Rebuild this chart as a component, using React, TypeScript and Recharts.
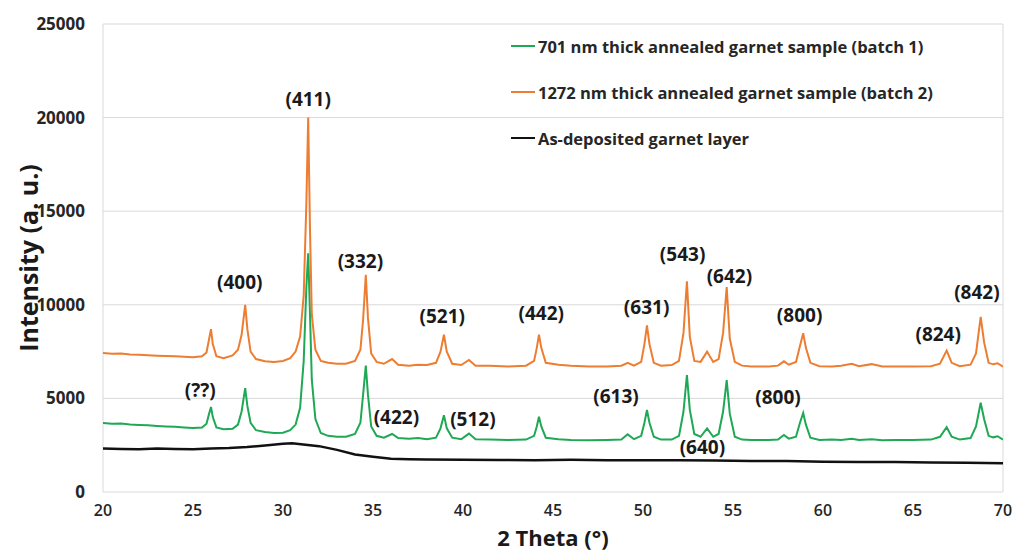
import { LineChart, Line, XAxis, YAxis, CartesianGrid, ReferenceLine, ReferenceDot } from 'recharts'

const FONT = "'Open Sans', 'DejaVu Sans', sans-serif"

// 2θ grid shared by the two annealed samples
const thetaAnnealed = [
  20, 20.5, 21, 21.5, 22, 22.5, 23, 23.5, 24, 24.5, 25, 25.5, 25.75, 25.9, 26.0, 26.1, 26.3, 26.7, 27.2, 27.5,
  27.7, 27.9, 28.02, 28.2, 28.5, 29, 29.5, 30, 30.4, 30.7, 30.95, 31.15, 31.3, 31.4, 31.5, 31.6, 31.8, 32.1, 32.5, 33,
  33.5, 34, 34.3, 34.45, 34.6, 34.72, 34.9, 35.2, 35.6, 36.06, 36.4, 37, 37.5, 38, 38.5, 38.75, 38.94, 39.1, 39.4, 39.9,
  40.33, 40.7, 41.5, 42.5, 43.5, 43.95, 44.1, 44.22, 44.35, 44.6, 45.3, 46, 47, 48, 48.8, 49.15, 49.5, 49.9, 50.08, 50.22,
  50.36, 50.6, 51, 51.6, 52.0, 52.25, 52.44, 52.6, 52.85, 53.2, 53.56, 53.9, 54.2, 54.45, 54.65, 54.82, 55.1, 55.5, 56, 57,
  57.5, 57.83, 58.1, 58.5, 58.72, 58.9, 59.05, 59.3, 59.8, 60.5, 61, 61.6, 62, 62.7, 63.3, 64, 65, 66, 66.5, 66.87,
  67.15, 67.6, 68.2, 68.5, 68.76, 68.95, 69.2, 69.45, 69.7, 70,
]

const batch1Intensity = [
  3680, 3650, 3660, 3610, 3580, 3560, 3530, 3500, 3480, 3450, 3420, 3450, 3650, 4200, 4540, 4000, 3450, 3350, 3380, 3600,
  4300, 5550, 4600, 3700, 3300, 3200, 3150, 3170, 3300, 3600, 4500, 7000, 11000, 12750, 9500, 6000, 3900, 3150, 3000, 2950,
  2950, 3100, 3700, 5200, 6750, 5200, 3500, 3000, 2900, 3100, 2880, 2850, 2880, 2820, 2900, 3400, 4100, 3400, 2900, 2820,
  3120, 2820, 2800, 2780, 2800, 3000, 3500, 4020, 3500, 2900, 2820, 2780, 2760, 2780, 2800, 3080, 2820, 3000, 3700, 4380,
  3700, 2950, 2800, 2800, 3000, 4300, 6250, 4400, 3100, 2950, 3400, 2950, 3100, 4300, 5980, 4200, 2950, 2800, 2780, 2780,
  2800, 3050, 2850, 2950, 3700, 4220, 3600, 2900, 2780, 2800, 2780, 2850, 2780, 2820, 2760, 2780, 2780, 2800, 2950, 3460,
  2950, 2800, 2880, 3500, 4770, 3900, 3000, 2920, 2980, 2800,
]

const batch2Intensity = [
  7420, 7380, 7400, 7350, 7330, 7300, 7280, 7260, 7250, 7220, 7200, 7250, 7450, 8200, 8700, 7900, 7250, 7150, 7300, 7600,
  8400, 10000, 8700, 7500, 7100, 6980, 6950, 7000, 7150, 7500, 8300, 10500, 15500, 20000, 14000, 9500, 7600, 7000, 6900, 6850,
  6850, 7000, 7600, 9200, 11600, 9300, 7400, 6950, 6850, 7100, 6800, 6750, 6800, 6780, 6900, 7500, 8400, 7500, 6850, 6780,
  7050, 6750, 6750, 6700, 6750, 7000, 7700, 8400, 7700, 6900, 6800, 6750, 6700, 6700, 6750, 6900, 6750, 6950, 7900, 8900,
  7900, 6900, 6750, 6780, 7000, 8500, 11250, 8300, 7000, 6950, 7500, 6950, 7100, 8500, 10950, 8200, 6950, 6750, 6700, 6700,
  6750, 6980, 6800, 6950, 7800, 8480, 7700, 6900, 6720, 6700, 6750, 6850, 6720, 6830, 6700, 6700, 6700, 6720, 6850, 7550,
  6900, 6720, 6800, 7400, 9350, 8000, 6900, 6820, 6880, 6700,
]

const thetaAsDeposited = [
  20, 21, 22, 23, 24, 25, 26, 27, 28, 29, 30, 30.5, 31, 32, 33, 34, 35, 36, 37, 38,
  40, 42, 44, 46, 48, 50, 52, 54, 56, 58, 60, 62, 64, 66, 68, 70,
]
const asDepositedIntensity = [
  2330, 2300, 2280, 2320, 2300, 2280, 2330, 2350, 2400, 2480, 2580, 2600, 2550, 2450, 2250, 2000, 1880, 1780, 1750, 1730,
  1720, 1710, 1700, 1720, 1700, 1690, 1700, 1680, 1660, 1650, 1620, 1600, 1600, 1570, 1560, 1530,
]

const xTicks = [20, 25, 30, 35, 40, 45, 50, 55, 60, 65, 70]
const yTicks = [0, 5000, 10000, 15000, 20000, 25000]

// peak (hkl) annotations: text, 2θ, intensity of label centre
const peakLabels = ['(411)', '(400)', '(332)', '(??)', '(422)', '(521)', '(442)', '(512)', '(631)', '(613)', '(543)', '(640)', '(642)', '(800)', '(800)', '(824)', '(842)']
const peakX = [31.4, 27.6, 34.3, 25.4, 36.3, 38.85, 44.35, 40.55, 50.2, 48.5, 52.2, 53.3, 54.8, 58.7, 57.5, 66.4, 68.55]
const peakY = [21000, 11200, 12300, 5450, 4000, 9400, 9560, 3900, 9880, 5130, 12700, 2400, 11550, 9450, 5080, 8400, 10650]

const seriesNames = ['701 nm thick annealed garnet sample (batch 1)', '1272 nm thick annealed garnet sample (batch 2)', 'As-deposited garnet layer']
const seriesColors = ['#1FA855', '#ED7D31', '#111111']

const batch1Data = thetaAnnealed.map((x, i) => ({ x, y: batch1Intensity[i] }))
const batch2Data = thetaAnnealed.map((x, i) => ({ x, y: batch2Intensity[i] }))
const asDepData = thetaAsDeposited.map((x, i) => ({ x, y: asDepositedIntensity[i] }))

function YTitle() {
  return (
    <text x={28} y={258} transform="rotate(-90 28 258)" textAnchor="middle" dominantBaseline="central"
      fontFamily={FONT} fontSize={25} fontWeight={700} fill="#1a1a1a">
      Intensity (a. u.)
    </text>
  )
}

function XTitle() {
  return (
    <text x={553} y={537} textAnchor="middle" dominantBaseline="central"
      fontFamily={FONT} fontSize={22} fontWeight={700} fill="#1a1a1a">
      2 Theta (°)
    </text>
  )
}

function LegendBox() {
  return (
    <div style={{ position: 'absolute', left: 511, top: 23, fontFamily: FONT, pointerEvents: 'none' }}>
      {seriesNames.map((name, i) => (
        <div key={name} style={{ height: 46, display: 'flex', alignItems: 'center' }}>
          <span style={{ display: 'inline-block', width: 24, height: 2, background: seriesColors[i], marginRight: 3 }} />
          <span style={{ fontSize: 16.5, fontWeight: 700, color: '#262626', whiteSpace: 'nowrap' }}>{name}</span>
        </div>
      ))}
    </div>
  )
}

export default function App() {
  return (
    <div style={{ position: 'absolute', left: 0, top: 0, width: 1015, height: 554, background: '#fff' }}>
      <LineChart width={1015} height={554} margin={{ top: 24, right: 12, bottom: 0, left: 0 }}>
        <CartesianGrid vertical={false} stroke="#d9d9d9" />
        <XAxis
          type="number"
          dataKey="x"
          domain={[20, 70]}
          ticks={xTicks}
          allowDataOverflow
          height={62}
          axisLine={false}
          tickLine={false}
          tickSize={0}
          tickMargin={13}
          tick={{ fill: '#262626', fontSize: 16, fontWeight: 600, fontFamily: FONT }}
          label={<XTitle />}
        />
        <YAxis
          type="number"
          domain={[0, 25000]}
          ticks={yTicks}
          width={103}
          axisLine={false}
          tickLine={false}
          tickSize={0}
          tickMargin={18}
          tick={{ fill: '#262626', fontSize: 17, fontWeight: 700, fontFamily: FONT }}
          label={<YTitle />}
        />
        <ReferenceLine x={20} stroke="#d9d9d9" />
        <ReferenceLine x={70} stroke="#d9d9d9" />
        <Line data={asDepData} dataKey="y" name={seriesNames[2]} stroke={seriesColors[2]} strokeWidth={2.5} dot={false} isAnimationActive={false} />
        <Line data={batch1Data} dataKey="y" name={seriesNames[0]} stroke={seriesColors[0]} strokeWidth={2} dot={false} isAnimationActive={false} />
        <Line data={batch2Data} dataKey="y" name={seriesNames[1]} stroke={seriesColors[1]} strokeWidth={2} dot={false} isAnimationActive={false} />
        {peakLabels.map((t, i) => (
          <ReferenceDot
            key={i}
            x={peakX[i]}
            y={peakY[i]}
            r={0}
            stroke="none"
            fill="none"
            label={{ value: t, position: 'center', fill: '#1a1a1a', fontSize: 19, fontWeight: 700, fontFamily: FONT }}
          />
        ))}
      </LineChart>
      <LegendBox />
    </div>
  )
}
